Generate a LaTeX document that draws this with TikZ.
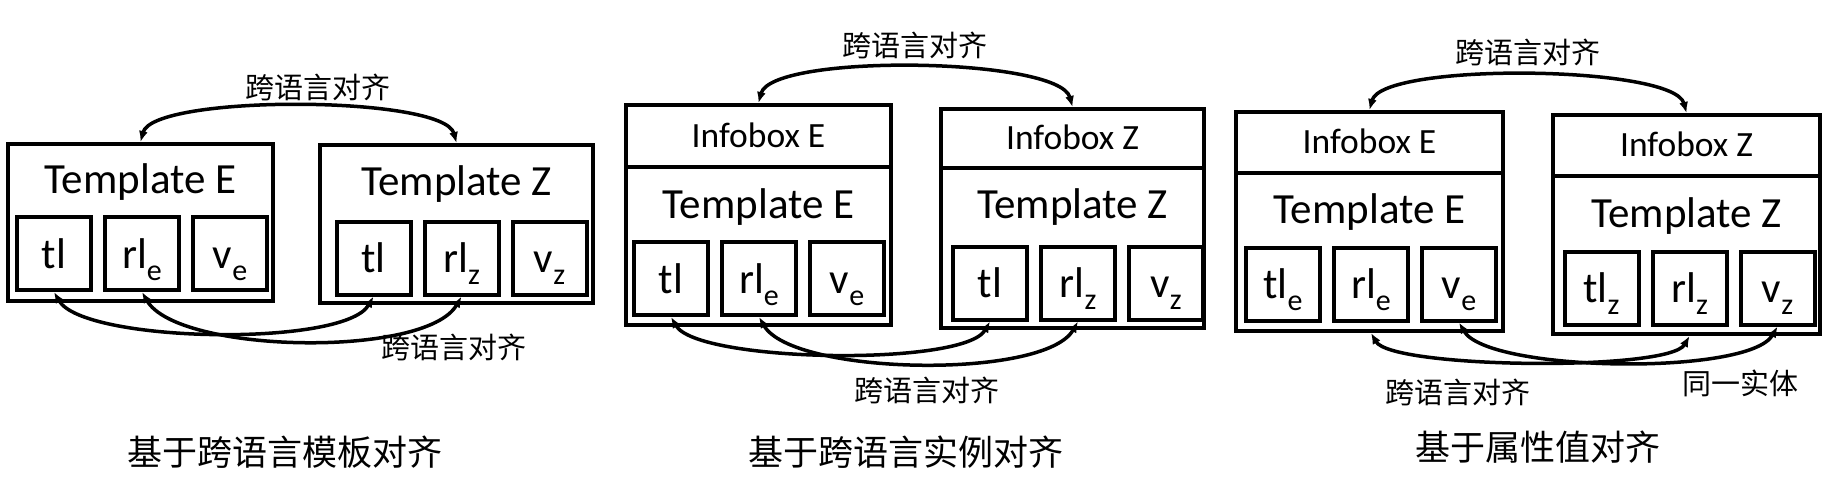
\documentclass[tikz,border=0pt]{standalone}
\usepackage{fontspec}
\setmainfont{Carlito}
\newfontfamily\cjk{Noto Sans CJK SC}
\usetikzlibrary{arrows.meta,positioning}
\newcommand{\lsub}[1]{\raisebox{-12pt}{\fontsize{30}{30}\selectfont #1}}

\begin{document}
\begin{tikzpicture}[x=1pt, y=1pt, node distance=10pt, >={Latex[length=11pt,width=9pt]},
    frame/.style={draw, line width=4pt, inner sep=0pt},
    slot/.style={draw, line width=4pt, inner sep=0pt, minimum width=74pt, minimum height=73pt,
      text height=30pt, text depth=1pt, font=\fontsize{43}{48}\selectfont},
    head/.style={anchor=base, inner sep=0pt, font=\fontsize{43}{48}\selectfont},
    infohead/.style={anchor=base, inner sep=0pt, font=\fontsize{35.5}{40}\selectfont},
    crosslbl/.style={font=\cjk\fontsize{29}{34}\selectfont},
    capt/.style={font=\cjk\fontsize{35}{40}\selectfont},
    link/.style={<->, line width=3.5pt}]
  \useasboundingbox (0,0) rectangle (1835,-485);

  % template alignment
  \node[frame, minimum width=265pt, minimum height=157pt] (tmplE1) at (140.5,-222.5) {};
  \node[frame, minimum width=273pt, minimum height=158pt] (tmplZ1) at (456.5,-224) {};
  \node[head] (hE1) at (140.5,-193) {Template E};
  \node[head] (hZ1) at (456.5,-195) {Template Z};
  \node[slot] (tlE1) at (54,-253.5) {tl};
  \node[slot, right=of tlE1] (rlE1) {rl\lsub{e}};
  \node[slot, right=of rlE1] (vE1) {v\lsub{e}};
  \node[slot] (tlZ1) at (373.5,-258) {tl};
  \node[slot, right=of tlZ1] (rlZ1) {rl\lsub{z}};
  \node[slot, right=of rlZ1] (vZ1) {v\lsub{z}};
  \draw[link] (tmplE1.north) to[out=75, in=105, looseness=.4] (tmplZ1.north);
  \draw[link] (tlE1.south) to[out=-60, in=-120, looseness=.47] (tlZ1.south);
  \draw[link] (rlE1.south) to[out=-60, in=-120, looseness=.57] (rlZ1.south);
  \node[crosslbl] (topl1) at (318,-87) {跨语言对齐};
  \node[crosslbl] (botl1) at (454,-347) {跨语言对齐};
  \node[capt] (cap1) at (285,-452) {基于跨语言模板对齐};

  % instance alignment
  \node[frame, minimum width=265pt, minimum height=62pt] (infoE2) at (758.5,-136) {};
  \node[frame, minimum width=265pt, minimum height=158pt] (tmplE2) at (758.5,-246) {};
  \node[frame, minimum width=263pt, minimum height=59pt] (infoZ2) at (1072.5,-138.5) {};
  \node[frame, minimum width=263pt, minimum height=160pt] (tmplZ2) at (1072.5,-248) {};
  \node[infohead] (iE2) at (758.5,-147) {Infobox E};
  \node[infohead] (iZ2) at (1072.5,-149) {Infobox Z};
  \node[head] (hE2) at (758.5,-218) {Template E};
  \node[head] (hZ2) at (1072.5,-218) {Template Z};
  \node[slot] (tlE2) at (671,-278.5) {tl};
  \node[slot, right=of tlE2] (rlE2) {rl\lsub{e}};
  \node[slot, right=of rlE2] (vE2) {v\lsub{e}};
  \node[slot] (tlZ2) at (990,-283) {tl};
  \node[slot, right=of tlZ2] (rlZ2) {rl\lsub{z}};
  \node[slot, right=of rlZ2] (vZ2) {v\lsub{z}};
  \draw[link] (infoE2.north) to[out=75, in=105, looseness=.42] (infoZ2.north);
  \draw[link] (tlE2.south) to[out=-60, in=-120, looseness=.42] (tlZ2.south);
  \draw[link] (rlE2.south) to[out=-60, in=-120, looseness=.54] (rlZ2.south);
  \node[crosslbl] (topl2) at (915,-45) {跨语言对齐};
  \node[crosslbl] (botl2) at (927,-390) {跨语言对齐};
  \node[capt] (cap2) at (906,-452) {基于跨语言实例对齐};

  % attribute value alignment
  \node[frame, minimum width=267pt, minimum height=61pt] (infoE3) at (1369.5,-142.5) {};
  \node[frame, minimum width=267pt, minimum height=158pt] (tmplE3) at (1369.5,-252) {};
  \node[frame, minimum width=267pt, minimum height=61pt] (infoZ3) at (1686.5,-145.5) {};
  \node[frame, minimum width=267pt, minimum height=158pt] (tmplZ3) at (1686.5,-255) {};
  \node[infohead] (iE3) at (1369.5,-153) {Infobox E};
  \node[infohead] (iZ3) at (1686.5,-156) {Infobox Z};
  \node[head] (hE3) at (1369.5,-223) {Template E};
  \node[head] (hZ3) at (1686.5,-227) {Template Z};
  \node[slot] (tlE3) at (1283,-284) {tl\lsub{e}};
  \node[slot, right=of tlE3] (rlE3) {rl\lsub{e}};
  \node[slot, right=of rlE3] (vE3) {v\lsub{e}};
  \node[slot] (tlZ3) at (1601.5,-288) {tl\lsub{z}};
  \node[slot, right=of tlZ3] (rlZ3) {rl\lsub{z}};
  \node[slot, right=of rlZ3] (vZ3) {v\lsub{z}};
  \draw[link] (infoE3.north) to[out=75, in=105, looseness=.4] (infoZ3.north);
  \draw[link] (rlE3 |- tmplE3.south) to[out=-60, in=-120, looseness=.33] (rlZ3 |- tmplZ3.south);
  \draw[link] (vE3.south) to[out=-60, in=-120, looseness=.46] (vZ3.south);
  \node[crosslbl] (topl3) at (1528,-52) {跨语言对齐};
  \node[crosslbl] (botl3) at (1458,-392) {跨语言对齐};
  \node[crosslbl] (same3) at (1740,-383) {同一实体};
  \node[capt] (cap3) at (1538,-447) {基于属性值对齐};
\end{tikzpicture}
\end{document}
